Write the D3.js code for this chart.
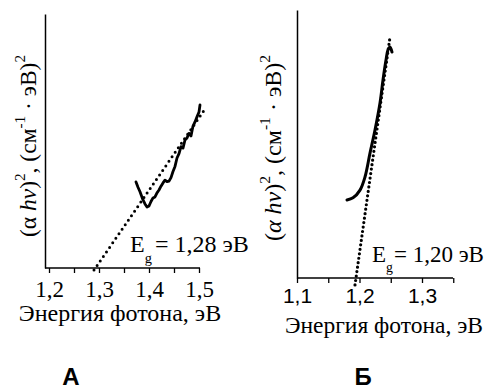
<!DOCTYPE html>
<html><head><meta charset="utf-8">
<script src="https://cdn.jsdelivr.net/npm/d3@7"></script>
<style>body{margin:0;background:#fff}
.serif{font-family:"Liberation Serif","Times New Roman",Tinos,"DejaVu Serif",serif}
.sans{font-family:"Liberation Sans",Arial,Arimo,"DejaVu Sans",sans-serif}
</style>
</head><body>
<svg id="c" width="490" height="390"></svg>
<script>
// Panel A data
const aTicks = [1.2, 1.25, 1.3, 1.35, 1.4, 1.45, 1.5];
const aMajor = [1.2, 1.3, 1.4, 1.5];
const aCurveX = [1.374,1.378,1.382,1.388,1.392,1.396,1.400,1.404,1.408,1.412,1.416,1.420,1.424,1.428,1.432,1.436,1.440,1.444,1.448,1.452,1.456,1.460,1.464,1.468,1.472,1.476,1.480,1.484,1.488,1.492,1.496,1.500,1.502];
const aCurveY = [0.339,0.318,0.300,0.268,0.252,0.240,0.244,0.262,0.276,0.280,0.296,0.307,0.322,0.335,0.346,0.340,0.342,0.356,0.380,0.400,0.433,0.450,0.478,0.472,0.504,0.512,0.530,0.520,0.559,0.575,0.595,0.614,0.642];
const aFitX = [1.290, 1.510];
const aFitY = [-0.008, 0.620];
// Panel B data
const bTicks = [1.1, 1.15, 1.2, 1.25, 1.3, 1.35];
const bMajor = [1.1, 1.2, 1.3];
const bCurveX = [1.180,1.1896,1.2008,1.2088,1.2168,1.2248,1.2328,1.2376,1.2424,1.2456,1.2488,1.252];
const bCurveY = [0.291,0.299,0.328,0.377,0.466,0.552,0.653,0.739,0.813,0.851,0.862,0.843];
const bFitX = [1.1928, 1.2488];
const bFitY = [-0.026, 0.899];

const svg = d3.select("#c");

function panel(o){
  const x = d3.scaleLinear().domain(o.xd).range(o.xr);
  const y = d3.scaleLinear().domain([0,1]).range(o.yr);
  const g = svg.append("g");
  const ax = d3.axisBottom(x).tickValues(o.ticks).tickSize(5)
    .tickFormat(d => o.major.some(m=>Math.abs(m-d)<1e-6) ? d3.format(".1f")(d).replace(".", ",") : "");
  const axg = g.append("g").attr("transform",`translate(0,${o.yr[0]})`).call(ax).attr("font-family",null).attr("font-size",null);
  axg.select(".domain").attr("d",`M${o.xr[0]},0H${o.xr[1]}`).attr("stroke","#000").attr("stroke-width",1.5);
  axg.selectAll(".tick line").attr("stroke","#000").attr("stroke-width",1.3);
  axg.selectAll(".tick text").attr("class",o.tickClass).style("font-size",o.tickSize+"px").attr("fill","#000").attr("dy",0).attr("y",o.tickY);
  const ay = d3.axisLeft(y).tickValues([]).tickSize(0);
  const ayg = g.append("g").attr("transform",`translate(${o.xr[0]},0)`).call(ay);
  ayg.select(".domain").attr("stroke","#000").attr("stroke-width",1.5);
  const line = d3.line().x(d=>x(d[0])).y(d=>y(d[1]));
  g.append("path").datum(o.fitX.map((v,i)=>[v,o.fitY[i]]))
    .attr("d",line).attr("fill","none").attr("stroke","#000")
    .attr("stroke-width",o.dotW).attr("stroke-linecap","round").attr("stroke-dasharray",`0 ${o.dotGap}`);
  g.append("path").datum(o.cx.map((v,i)=>[v,o.cy[i]]))
    .attr("d",o.smooth ? line.curve(d3.curveCatmullRom) : line.curve(d3.curveLinear)).attr("fill","none").attr("stroke","#000")
    .attr("stroke-width",o.curveW).attr("stroke-linejoin","round").attr("stroke-linecap","round");
  const yl = g.append("text").attr("class","serif").attr("transform",`translate(${o.ylx},${o.yly}) rotate(-90)`)
    .attr("text-anchor","middle").style("font-size",o.ylSize+"px").attr("fill","#000");
  const s = o.ylSize;
  yl.append("tspan").text("(");
  yl.append("tspan").attr("font-style",o.alphaItalic?"italic":"normal").text("α");
  yl.append("tspan").text(" ");
  yl.append("tspan").attr("font-style","italic").text("hν");
  yl.append("tspan").text(")");
  yl.append("tspan").style("font-size",(s*0.65)+"px").attr("dy",-s*0.45).text("2");
  yl.append("tspan").attr("dy",s*0.45).text(", (см");
  yl.append("tspan").style("font-size",(s*0.65)+"px").attr("dy",-s*0.45).text("-1");
  yl.append("tspan").attr("dy",s*0.45).text(" · эВ)");
  yl.append("tspan").style("font-size",(s*0.65)+"px").attr("dy",-s*0.45).text("2");
  g.append("text").attr("class","serif").attr("x",o.xlx).attr("y",o.xly).attr("text-anchor","middle")
    .style("font-size",o.xlSize+"px").attr("fill","#000").text("Энергия фотона, эВ");
  const e = o.egSize;
  const eg = g.append("text").attr("class","serif").attr("x",o.egx).attr("y",o.egy).style("font-size",e+"px").attr("fill","#000");
  eg.append("tspan").text("E");
  eg.append("tspan").style("font-size",(e*0.6)+"px").attr("dy",e*0.45).text("g");
  eg.append("tspan").attr("dy",-e*0.45).attr("dx",o.egGap).text(o.egText);
  g.append("text").attr("class","sans").attr("x",o.letX).attr("y",385).attr("text-anchor","middle")
    .attr("font-weight","bold").style("font-size","24px").attr("fill","#000").text(o.letter);
}

panel({xd:[1.192,1.502], xr:[45,200], yr:[268,14], ticks:aTicks, major:aMajor,
  tickClass:"serif", tickSize:23, tickY:29,
  fitX:aFitX, fitY:aFitY, dotW:3, dotGap:5.5, cx:aCurveX, cy:aCurveY, curveW:2.8, smooth:false,
  ylx:36, yly:146, ylSize:23.5, alphaItalic:false,
  xlx:120, xly:321, xlSize:24,
  egx:130, egy:252, egSize:24, egGap:3, egText:"= 1,28 эВ",
  letX:71, letter:"А"});

panel({xd:[1.1,1.3496], xr:[297,453], yr:[278,10], ticks:bTicks, major:bMajor,
  tickClass:"sans", tickSize:21, tickY:25,
  fitX:bFitX, fitY:bFitY, dotW:3.2, dotGap:4.5, cx:bCurveX, cy:bCurveY, curveW:3, smooth:true,
  ylx:281, yly:148, ylSize:24, alphaItalic:true,
  xlx:384, xly:333, xlSize:23.5,
  egx:372, egy:262, egSize:23, egGap:1, egText:"= 1,20 эВ",
  letX:363, letter:"Б"});
</script>
</body></html>
